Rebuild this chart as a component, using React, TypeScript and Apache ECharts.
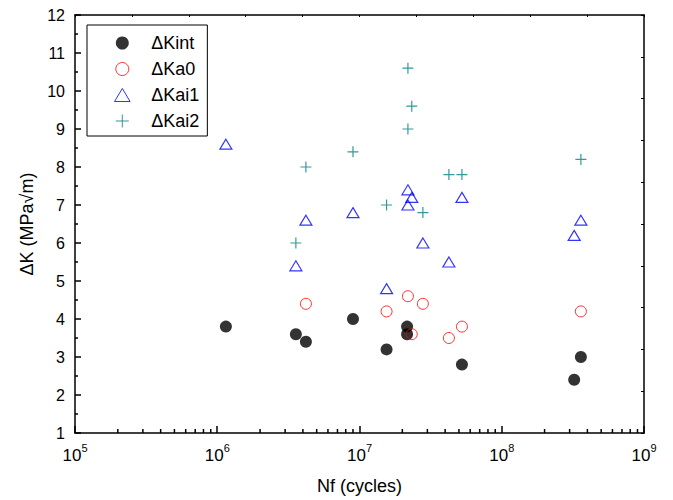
import React, { useEffect, useRef } from "react";
import * as echarts from "echarts";

const FONT = "'Liberation Sans', Arial, sans-serif";

const kintData: [number, number][] = [
  [1.15e6, 3.8], [3.57e6, 3.6], [4.2e6, 3.4], [9.0e6, 4.0], [1.55e7, 3.2],
  [2.16e7, 3.8], [2.16e7, 3.6], [5.25e7, 2.8], [3.6e8, 3.0], [3.23e8, 2.4],
];
const ka0Data: [number, number][] = [
  [4.2e6, 4.4], [1.55e7, 4.2], [2.19e7, 4.6], [2.79e7, 4.4], [2.33e7, 3.6],
  [4.25e7, 3.5], [5.25e7, 3.8], [3.6e8, 4.2],
];
const kai1Data: [number, number][] = [
  [1.15e6, 8.6], [4.2e6, 6.6], [3.57e6, 5.4], [9.0e6, 6.8], [2.19e7, 7.4],
  [2.33e7, 7.2], [2.19e7, 7.0], [5.25e7, 7.2], [2.79e7, 6.0], [4.25e7, 5.5],
  [1.55e7, 4.8], [3.6e8, 6.6], [3.23e8, 6.2],
];
const kai2Data: [number, number][] = [
  [4.2e6, 8.0], [3.57e6, 6.0], [9.0e6, 8.4], [1.55e7, 7.0], [2.19e7, 10.6],
  [2.33e7, 9.6], [2.19e7, 9.0], [4.25e7, 7.8], [5.25e7, 7.8], [2.79e7, 6.8],
  [3.6e8, 8.2],
];
const seriesNames = ["ΔKint", "ΔKa0", "ΔKai1", "ΔKai2"];
const decades = [5, 6, 7, 8];
const minorMultipliers = [2, 3, 4, 5, 6, 7, 8, 9];

export default function App() {
  const ref = useRef<HTMLDivElement>(null);
  useEffect(() => {
    if (!ref.current) return;
    const chart = echarts.init(ref.current, null, { renderer: "svg" });
    const minorTicks: [number, number][] = [];
    decades.forEach((d) =>
      minorMultipliers.forEach((m) => minorTicks.push([m * Math.pow(10, d), 1]))
    );
    const axisLine = { show: true, lineStyle: { color: "#000", width: 1.5 } };
    chart.setOption({
      animation: false,
      backgroundColor: "#fff",
      grid: { left: 75, right: 29, top: 15, bottom: 66 },
      legend: {
        data: seriesNames,
        orient: "vertical",
        left: 87,
        top: 25,
        padding: [9, 8, 6, 25],
        itemWidth: 48,
        itemHeight: 13,
        itemGap: 8,
        borderColor: "#000",
        borderWidth: 1,
        itemStyle: { borderWidth: 1 },
        textStyle: { fontFamily: FONT, fontSize: 18, color: "#000", lineHeight: 18 },
      },
      xAxis: [
        {
          type: "log",
          logBase: 10,
          min: 1e5,
          max: 1e9,
          name: "Nf (cycles)",
          nameLocation: "middle",
          nameGap: 44,
          nameTextStyle: { fontFamily: FONT, fontSize: 18, color: "#000" },
          axisLine,
          axisTick: { show: true, inside: true, length: 7, lineStyle: { color: "#000", width: 1.5 } },
          splitLine: { show: false },
          axisLabel: {
            margin: 9,
            color: "#000",
            fontFamily: FONT,
            formatter: (v: number) => `{b|10}{s|${Math.round(Math.log10(v))}}`,
            rich: {
              b: { fontFamily: FONT, fontSize: 17, color: "#000", lineHeight: 22, verticalAlign: "bottom" },
              s: { fontFamily: FONT, fontSize: 11, color: "#000", lineHeight: 11, verticalAlign: "top" },
            },
          },
        },
        {
          type: "value",
          position: "top",
          min: 0,
          max: 10,
          interval: 1,
          axisLine,
          axisTick: { show: true, inside: true, length: 2, lineStyle: { color: "#000" } },
          axisLabel: { show: false },
          splitLine: { show: false },
        },
      ],
      yAxis: [
        {
          type: "value",
          min: 1,
          max: 12,
          interval: 1,
          name: "ΔK (MPa√m)",
          nameLocation: "middle",
          nameGap: 35,
          nameTextStyle: { fontFamily: FONT, fontSize: 18, color: "#000" },
          axisLine,
          axisTick: { show: true, inside: true, length: 6, lineStyle: { color: "#000", width: 1.5 } },
          minorTick: { show: true, splitNumber: 2, length: 3, lineStyle: { color: "#000", width: 1.5 } },
          splitLine: { show: false },
          minorSplitLine: { show: false },
          axisLabel: { margin: 10, color: "#000", fontFamily: FONT, fontSize: 16 },
        },
        {
          type: "value",
          position: "right",
          min: 0,
          max: 10,
          interval: 1,
          axisLine,
          axisTick: { show: true, inside: true, length: 3, lineStyle: { color: "#000" } },
          axisLabel: { show: false },
          splitLine: { show: false },
        },
      ],
      series: [
        {
          type: "custom",
          silent: true,
          xAxisIndex: 0,
          yAxisIndex: 0,
          data: minorTicks,
          encode: { x: 0, y: 1 },
          renderItem: (_p: any, api: any) => {
            const pt = api.coord([api.value(0), api.value(1)]);
            return {
              type: "line",
              shape: { x1: pt[0], y1: pt[1], x2: pt[0], y2: pt[1] - 4 },
              style: { stroke: "#000", lineWidth: 1.5 },
            };
          },
        },
        {
          name: seriesNames[0],
          type: "scatter",
          data: kintData,
          symbol: "circle",
          symbolSize: 12,
          itemStyle: { color: "#000" },
        },
        {
          name: seriesNames[1],
          type: "scatter",
          data: ka0Data,
          symbol: "circle",
          symbolSize: 11,
          itemStyle: { color: "none", borderColor: "#ff0000", borderWidth: 1 },
        },
        {
          name: seriesNames[2],
          type: "scatter",
          data: kai1Data,
          symbol: "path://M6,0L12,10L0,10Z",
          symbolSize: 12,
          symbolKeepAspect: true,
          itemStyle: { color: "none", borderColor: "#0000ff", borderWidth: 1.2 },
        },
        {
          name: seriesNames[3],
          type: "scatter",
          data: kai2Data,
          symbol: "path://M5,0L5,10M0,5L10,5",
          symbolSize: 11,
          itemStyle: { color: "none", borderColor: "#008080", borderWidth: 1.2 },
        },
      ],
    });
    return () => chart.dispose();
  }, []);
  return (
    <div
      ref={ref}
      style={{ position: "absolute", left: 0, top: 0, width: 673, height: 500 }}
    />
  );
}
